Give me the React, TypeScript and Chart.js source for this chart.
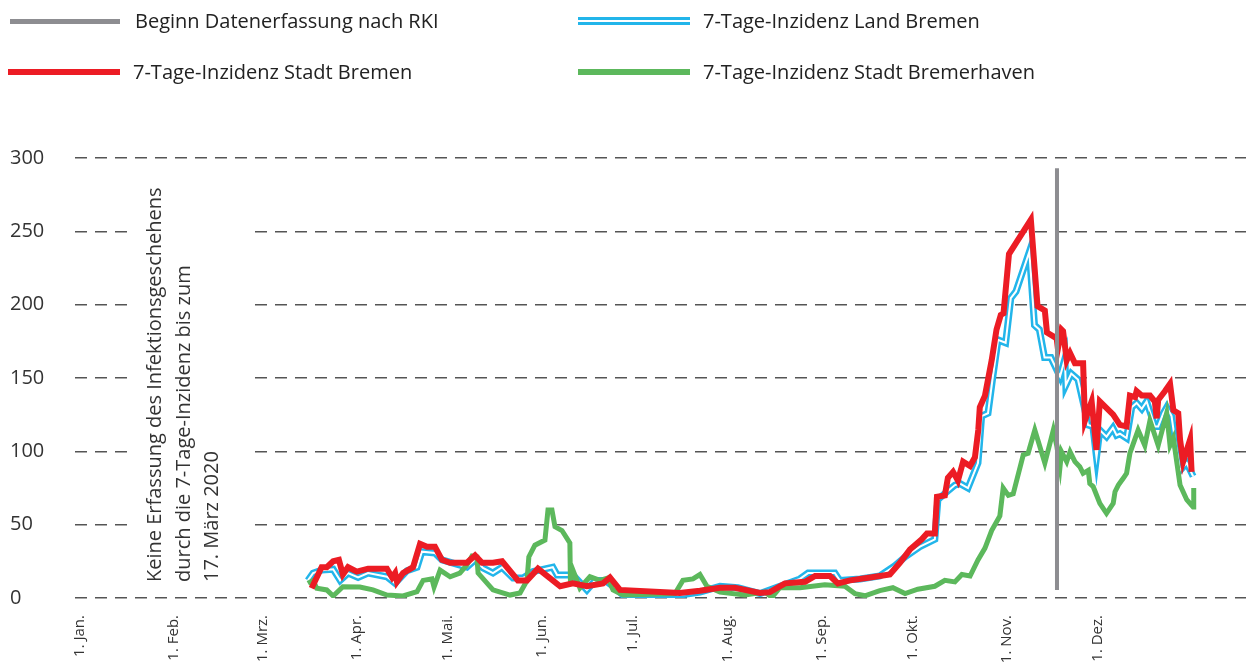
import React, { useEffect, useRef } from "react";
import { Chart, registerables } from "chart.js";

Chart.register(...registerables);

// ---- axis / category data ----
const monthStartDays = [0, 31, 60, 91, 121, 152, 182, 213, 244, 274, 305, 335];
const monthLabels = [
  "1. Jan.", "1. Feb.", "1. Mrz.", "1. Apr.", "1. Mai.", "1. Jun.",
  "1. Jul.", "1. Aug.", "1. Sep.", "1. Okt.", "1. Nov.", "1. Dez.",
];
const yTicks = [0, 50, 100, 150, 200, 250, 300];

// ---- series: day of year 2020 (0 = 1. Jan.) and 7-day incidence ----
const redDays = [76.2, 79.5, 81.2, 83.3, 85.2, 86.5, 88.2, 91.1, 94.8, 101, 102.7, 103.7, 104.3, 106.3, 109.6, 111.9, 114.2, 116.8, 119.1, 121.8, 127.3, 130, 132.3, 135.9, 138.9, 144.1, 147.1, 150.7, 158, 162.2, 166.8, 172.1, 174.4, 177.7, 197.4, 204, 210.6, 215.5, 223.8, 227, 232, 238.6, 241.9, 246.8, 249.4, 253.4, 260, 266.5, 269.8, 273.1, 277, 278.7, 281.3, 282, 284.6, 285.6, 287.3, 288.9, 290.6, 292.9, 294.5, 295.6, 296.1, 297.8, 300, 301.6, 303, 303.9, 305.7, 312.9, 315.1, 317.5, 318.2, 321.4, 321.8, 323, 323.5, 324.7, 325.8, 327.4, 330.1, 330.7, 332.9, 334.5, 335.6, 340, 342.2, 344.4, 345.5, 347.2, 347.7, 349.4, 352.1, 353.7, 354.3, 354.8, 357, 358.7, 359.8, 361.4, 362, 363, 365.3, 365.8];
const redValues = [6.6, 21, 21, 25, 26, 16, 21, 18, 20, 20, 14, 17, 11, 17, 21, 37, 35, 35, 26, 24, 24, 29, 24, 24, 25, 12, 12, 20, 8, 10, 8, 10, 14, 5.5, 3.4, 5, 7, 7, 3.5, 4, 10, 11, 15, 15, 10, 12, 14, 16, 24, 33, 40, 44, 44, 69, 70, 82, 86, 80, 93, 90, 96, 114.5, 130, 138, 162, 183, 193, 194, 234.5, 258, 199, 196, 181, 177, 170, 183, 182, 162, 167, 160, 160, 121, 134, 101, 134, 125, 118, 117, 138, 137, 141, 138, 138, 134, 122.5, 135, 141, 146, 128, 126, 108, 93, 108, 86];

const blueDays = [75, 76.7, 79.5, 83.3, 85.6, 88.2, 91.5, 94.8, 101, 103.7, 107.6, 110.9, 112.5, 116.8, 119.1, 127.3, 130, 132.6, 135.9, 138.9, 142.5, 145.8, 149.1, 155.6, 157, 162.2, 166.8, 169.5, 172.8, 175.4, 178.7, 197.4, 204, 210.6, 216.5, 223.8, 230.3, 236.9, 239.6, 248.4, 250, 256.7, 263.2, 268.2, 271.5, 276.4, 281.3, 282.3, 285.6, 287.9, 289.6, 292.2, 295.5, 296.7, 298.8, 300.4, 302.1, 304.6, 306.3, 308, 312.4, 314.1, 315.7, 317.4, 319.5, 321.8, 322.5, 324.1, 324.4, 326.2, 328.4, 330.7, 331.7, 333.3, 334.5, 335.6, 337.8, 339.9, 341.1, 342.2, 344.4, 346.1, 347.7, 349.4, 351, 352.1, 353.7, 354.8, 356.5, 357.6, 359.2, 360.3, 362, 364.2, 366.3];
const blueValues = [12, 17, 19, 19.6, 12, 17, 14, 17, 14.5, 10, 18.6, 21, 31.6, 30.7, 26, 21, 26, 20.5, 17, 21, 13.6, 13.6, 18, 21, 15.7, 15.7, 5.5, 12, 12, 8, 2, 2, 4, 8, 7, 3, 8, 13, 17, 17, 12, 13, 15, 22, 28, 35, 40, 67, 73, 77, 78, 75, 92, 124, 126, 151, 176, 174, 204.5, 209, 236, 186, 183, 164, 164, 154, 151, 163, 145, 153, 149, 128, 118, 117, 96, 114.5, 110, 116, 111, 112, 109, 130, 133, 129, 134, 127, 117, 117, 126, 130, 124, 108, 87, 92, 83];

const greenDays = [75, 76.7, 77.9, 81.2, 83.3, 86.5, 92.1, 96.4, 101, 106.3, 110.9, 112.9, 115.8, 116.5, 118.5, 121.8, 125, 127.3, 129, 130.6, 131, 135.9, 141.5, 144.8, 147.1, 147.7, 149.7, 153, 154, 155.3, 156.3, 158.6, 161.2, 161.4, 162.2, 164.5, 167.8, 171.1, 173.7, 175.4, 178.7, 195.8, 198.4, 201.7, 204, 206.3, 210.6, 218.8, 225.4, 227.7, 230.3, 236.9, 245.1, 251.7, 255, 258.3, 263.2, 267.5, 271.5, 275.7, 281.3, 284.6, 287.9, 290.2, 292.9, 295.5, 297.8, 300, 302.7, 303.8, 305.5, 307.1, 310.4, 312, 314.2, 317.5, 320.3, 321.4, 322.5, 323, 324.7, 325.8, 327.4, 329, 330.1, 331.8, 332.3, 333.4, 335.6, 337.8, 340, 340.6, 341.7, 343.3, 344.4, 345.5, 348.2, 350.4, 352.1, 354.8, 357.6, 358.7, 359.8, 362, 364.2, 366.3, 366.5];
const greenValues = [10, 12, 6.6, 5.5, 1.4, 7.7, 7.5, 5.5, 2, 1.4, 4.3, 12, 13, 7.5, 19, 14.5, 17, 22.5, 28.6, 28, 17, 5.5, 2, 3.4, 12, 28, 36, 39.5, 60, 60, 48.6, 46, 37.5, 10, 19, 6.8, 14.5, 12, 13.6, 5.5, 2, 3, 12, 13, 16, 8, 4, 2, 4, 0.5, 7, 7, 9, 8, 3, 1.5, 5, 7, 3, 6, 8, 12, 11, 16, 15, 26, 34, 46, 56, 75, 70, 71, 97.5, 98.7, 114.5, 92, 114.5, 104, 89.5, 99.7, 93, 99.7, 93, 89.5, 85, 87, 78, 76, 64.5, 57.7, 64.5, 72.5, 77, 81.6, 85, 98.7, 114.5, 104, 121, 104, 126, 104, 109, 77, 67, 62, 75];

// Beginn Datenerfassung nach RKI (vertical marker)
const rkiDays = [321.5, 321.5];
const rkiValues = [5.5, 293];

const annotationLines = [
  "Keine Erfassung des Infektionsgeschehens",
  "durch die 7-Tage-Inzidenz bis zum",
  "17. März 2020",
];

const FONT = '"Open Sans", "Noto Sans", sans-serif';
const RED = "#ec1c24";
const BLUE = "#22b5ea";
const GREEN = "#5cb85c";
const GRAY = "#8d8d91";

const toPoints = (xs: number[], ys: number[]) => xs.map((x, i) => ({ x, y: ys[i] }));

const annotationPlugin = {
  id: "noDataNote",
  beforeDatasetsDraw(chart: any) {
    const ctx = chart.ctx;
    ctx.save();
    ctx.fillStyle = "#ffffff";
    ctx.fillRect(129, 172, 118, 412);
    ctx.fillStyle = "#333333";
    ctx.font = `20px ${FONT}`;
    ctx.textAlign = "left";
    ctx.textBaseline = "middle";
    const xs = [155, 184, 212];
    annotationLines.forEach((t, i) => {
      ctx.save();
      ctx.translate(xs[i], 582);
      ctx.rotate(-Math.PI / 2);
      ctx.fillText(t, 0, 0);
      ctx.restore();
    });
    ctx.restore();
  },
};

export default function App() {
  const canvasRef = useRef<HTMLCanvasElement | null>(null);

  useEffect(() => {
    const canvas = canvasRef.current;
    if (!canvas) return;
    const chart = new Chart(canvas, {
      type: "line",
      data: {
        datasets: [
          {
            label: "Beginn Datenerfassung nach RKI",
            data: toPoints(rkiDays, rkiValues),
            borderColor: GRAY,
            borderWidth: 4,
            pointRadius: 0,
            order: 0,
          },
          {
            label: "7-Tage-Inzidenz Stadt Bremen",
            data: toPoints(redDays, redValues),
            borderColor: RED,
            borderWidth: 6,
            pointRadius: 0,
            tension: 0,
            borderJoinStyle: "miter",
            order: 1,
          },
          {
            label: "7-Tage-Inzidenz Stadt Bremerhaven",
            data: toPoints(greenDays, greenValues),
            borderColor: GREEN,
            borderWidth: 5,
            pointRadius: 0,
            tension: 0,
            borderJoinStyle: "miter",
            order: 2,
          },
          {
            label: "core",
            data: toPoints(blueDays, blueValues),
            borderColor: "#ffffff",
            borderWidth: 2,
            pointRadius: 0,
            tension: 0,
            borderJoinStyle: "miter",
            order: 3,
          },
          {
            label: "7-Tage-Inzidenz Land Bremen",
            data: toPoints(blueDays, blueValues),
            borderColor: BLUE,
            borderWidth: 7,
            pointRadius: 0,
            tension: 0,
            borderJoinStyle: "miter",
            order: 4,
          },
        ],
      },
      options: {
        responsive: false,
        animation: false,
        devicePixelRatio: 1,
        layout: { padding: { top: 158, left: 10, right: 0, bottom: 0 } },
        plugins: {
          legend: { display: false },
          tooltip: { enabled: false },
        },
        scales: {
          x: {
            type: "linear",
            min: -1.65,
            max: 383.7,
            afterBuildTicks: (s: any) => {
              s.ticks = monthStartDays.map((v) => ({ value: v }));
            },
            afterFit: (s: any) => {
              s.height = 70;
            },
            ticks: {
              autoSkip: false,
              minRotation: 90,
              maxRotation: 90,
              padding: 9,
              color: "#333333",
              font: { family: FONT, size: 15 },
              callback: (_v: any, i: number) => monthLabels[i],
            },
            grid: { display: false },
            border: { display: false },
          },
          y: {
            min: 0,
            max: 300,
            afterBuildTicks: (s: any) => {
              s.ticks = yTicks.map((v) => ({ value: v }));
            },
            afterFit: (s: any) => {
              s.width = 65;
            },
            ticks: {
              crossAlign: "far",
              padding: 0,
              color: "#333333",
              font: { family: FONT, size: 20 },
            },
            grid: { color: "#555555", lineWidth: 1.4, drawTicks: false },
            border: { display: false, dash: [12, 8] },
          },
        },
      },
      plugins: [annotationPlugin],
    } as any);
    return () => chart.destroy();
  }, []);

  const textStyle: React.CSSProperties = {
    position: "absolute",
    font: `20px ${FONT}`,
    color: "#222222",
    whiteSpace: "nowrap",
    lineHeight: "1",
    transform: "translateY(-50%)",
  };

  return (
    <div style={{ position: "absolute", left: 0, top: 0, width: 1246, height: 668, background: "#fff" }}>
      <canvas ref={canvasRef} width={1246} height={668} style={{ position: "absolute", left: 0, top: 0, width: 1246, height: 668 }} />
      <div style={{ position: "absolute", left: 10, top: 19, width: 110, height: 5, background: GRAY }} />
      <div style={{ ...textStyle, left: 135, top: 21 }}>Beginn Datenerfassung nach RKI</div>
      <div style={{ position: "absolute", left: 8, top: 69, width: 112, height: 6, background: RED }} />
      <div style={{ ...textStyle, left: 133, top: 72 }}>7-Tage-Inzidenz Stadt Bremen</div>
      <div
        style={{
          position: "absolute",
          left: 578,
          top: 17,
          width: 112,
          height: 8,
          boxSizing: "border-box",
          borderTop: `3px solid ${BLUE}`,
          borderBottom: `3px solid ${BLUE}`,
          background: "#fff",
        }}
      />
      <div style={{ ...textStyle, left: 703, top: 21 }}>7-Tage-Inzidenz Land Bremen</div>
      <div style={{ position: "absolute", left: 578, top: 69, width: 112, height: 6, background: GREEN }} />
      <div style={{ ...textStyle, left: 703, top: 72 }}>7-Tage-Inzidenz Stadt Bremerhaven</div>
    </div>
  );
}
